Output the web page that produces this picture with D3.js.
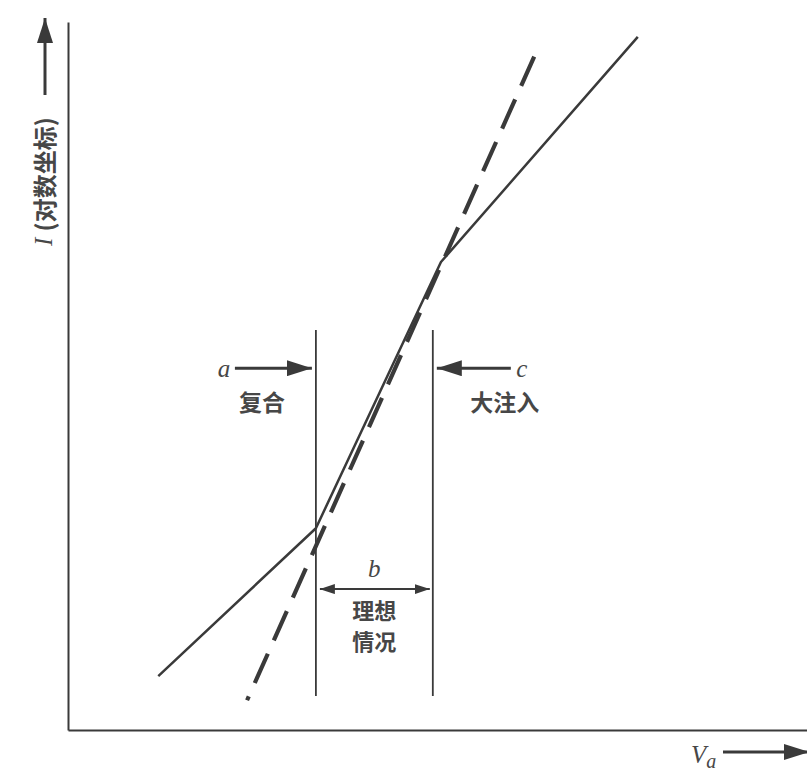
<!DOCTYPE html>
<html>
<head>
<meta charset="utf-8">
<script src="https://cdn.jsdelivr.net/npm/d3@7"></script>
<style>
  body { margin: 0; background: #fff; }
  svg { display: block; }
  .cjk { font-family: "Noto Sans CJK SC", "Noto Sans", sans-serif; font-weight: bold; fill: #474747; }
  .it { font-family: "Liberation Serif", "DejaVu Serif", serif; font-style: italic; fill: #474747; }
</style>
</head>
<body>
<div id="chart"></div>
<script>
// diode I-V (log scale) sketch, abstract units 0..100 on both axes
const solidCurve = [
  { v: 12.2, i: 7.6 },
  { v: 33.5, i: 28.5 },
  { v: 50.4, i: 66.1 },
  { v: 77.0, i: 97.9 }
]
const idealLine = [
  { v: 63.0, i: 95.1 },
  { v: 24.2, i: 4.2 }
]
const regionBounds = [33.5, 49.3]   // V of the two vertical lines
const regionSpan = [4.8, 56.5]      // I range of the vertical lines
const markLevels = { ac: 51.1, b: 19.9 }
const regionLabels = ['复合', '大注入', '理想', '情况']
const letters = ['a', 'b', 'c']
const yLabel = '(对数坐标)'

const W = 807, H = 771
const ink = '#3a3a3a'

const x = d3.scaleLinear().domain([0, 100]).range([68, 808])
const y = d3.scaleLinear().domain([0, 100]).range([730, 22])

const svg = d3.select('#chart').append('svg').attr('width', W).attr('height', H)

const defs = svg.append('defs')
function marker (id, len, half) {
  defs.append('marker')
    .attr('id', id)
    .attr('markerUnits', 'userSpaceOnUse')
    .attr('viewBox', `0 ${-half} ${len} ${2 * half}`)
    .attr('refX', len).attr('refY', 0)
    .attr('markerWidth', len).attr('markerHeight', 2 * half)
    .attr('orient', 'auto-start-reverse')
    .append('path')
    .attr('d', `M0,${-half}L${len},0L0,${half}Z`)
    .attr('fill', ink)
}
marker('big', 25, 8)
marker('small', 15, 5)

// axes (no ticks)
svg.append('g').attr('transform', `translate(${x(0)},0)`)
  .call(d3.axisLeft(y).ticks(0).tickSizeOuter(0))
  .call(g => g.select('.domain').attr('stroke', ink).attr('stroke-width', 2))
svg.append('g').attr('transform', `translate(0,${y(0)})`)
  .call(d3.axisBottom(x).ticks(0).tickSizeOuter(0))
  .call(g => g.select('.domain').attr('stroke', ink).attr('stroke-width', 2))

// axis label arrows
svg.append('line')
  .attr('x1', 45).attr('y1', 95).attr('x2', 45).attr('y2', 18)
  .attr('stroke', ink).attr('stroke-width', 3).attr('marker-end', 'url(#big)')
svg.append('line')
  .attr('x1', 723).attr('y1', 752).attr('x2', 809).attr('y2', 752)
  .attr('stroke', ink).attr('stroke-width', 3).attr('marker-end', 'url(#big)')

const yl = svg.append('text')
  .attr('transform', 'translate(43,246) rotate(-90)')
  .attr('dominant-baseline', 'central')
  .style('font-size', '25px')
yl.append('tspan').attr('class', 'it').text('I ')
yl.append('tspan').attr('class', 'cjk').style('font-size', '24px').text(yLabel)

const xl = svg.append('text').attr('x', 691).attr('y', 763).attr('class', 'it').style('font-size', '25px')
xl.append('tspan').text('V')
xl.append('tspan').attr('dy', 5).style('font-size', '20px').text('a')

// region boundaries
svg.selectAll('.bound').data(regionBounds).join('line')
  .attr('class', 'bound')
  .attr('x1', d => x(d)).attr('x2', d => x(d))
  .attr('y1', y(regionSpan[1])).attr('y2', y(regionSpan[0]))
  .attr('stroke', ink).attr('stroke-width', 1.8)

const line = d3.line().x(d => x(d.v)).y(d => y(d.i))

// ideal (dashed) and real (solid) curves
svg.append('path').datum(idealLine)
  .attr('d', line).attr('fill', 'none')
  .attr('stroke', ink).attr('stroke-width', 4.2)
  .attr('stroke-dasharray', '32 14.7')
svg.append('path').datum(solidCurve)
  .attr('d', line).attr('fill', 'none')
  .attr('stroke', ink).attr('stroke-width', 2.5)
  .attr('stroke-linejoin', 'round')

// annotations
const xa = x(regionBounds[0]), xc = x(regionBounds[1])
const yac = y(markLevels.ac), yb = y(markLevels.b)

svg.append('line')
  .attr('x1', xa - 81).attr('y1', yac).attr('x2', xa - 4).attr('y2', yac)
  .attr('stroke', ink).attr('stroke-width', 3).attr('marker-end', 'url(#big)')
svg.append('line')
  .attr('x1', xc + 78).attr('y1', yac).attr('x2', xc + 4).attr('y2', yac)
  .attr('stroke', ink).attr('stroke-width', 3).attr('marker-end', 'url(#big)')
svg.append('line')
  .attr('x1', xa + 4).attr('y1', yb).attr('x2', xc - 3).attr('y2', yb)
  .attr('stroke', ink).attr('stroke-width', 2)
  .attr('marker-start', 'url(#small)').attr('marker-end', 'url(#small)')

svg.append('text').attr('class', 'it').style('font-size', '25px')
  .attr('x', xa - 92).attr('y', yac).attr('text-anchor', 'middle').attr('dominant-baseline', 'central')
  .text(letters[0])
svg.append('text').attr('class', 'it').style('font-size', '25px')
  .attr('x', (xa + xc) / 2).attr('y', yb - 21).attr('text-anchor', 'middle').attr('dominant-baseline', 'central')
  .text(letters[1])
svg.append('text').attr('class', 'it').style('font-size', '25px')
  .attr('x', xc + 89).attr('y', yac).attr('text-anchor', 'middle').attr('dominant-baseline', 'central')
  .text(letters[2])

const cjk = [
  { t: regionLabels[0], x: xa - 54, y: yac + 33, s: 23 },
  { t: regionLabels[1], x: xc + 72, y: yac + 33, s: 23 },
  { t: regionLabels[2], x: (xa + xc) / 2, y: yb + 20, s: 22 },
  { t: regionLabels[3], x: (xa + xc) / 2, y: yb + 51, s: 22 }
]
svg.selectAll('.lbl').data(cjk).join('text')
  .attr('class', 'lbl cjk')
  .attr('x', d => d.x).attr('y', d => d.y)
  .attr('text-anchor', 'middle').attr('dominant-baseline', 'central')
  .style('font-size', d => d.s + 'px')
  .text(d => d.t)
</script>
</body>
</html>
